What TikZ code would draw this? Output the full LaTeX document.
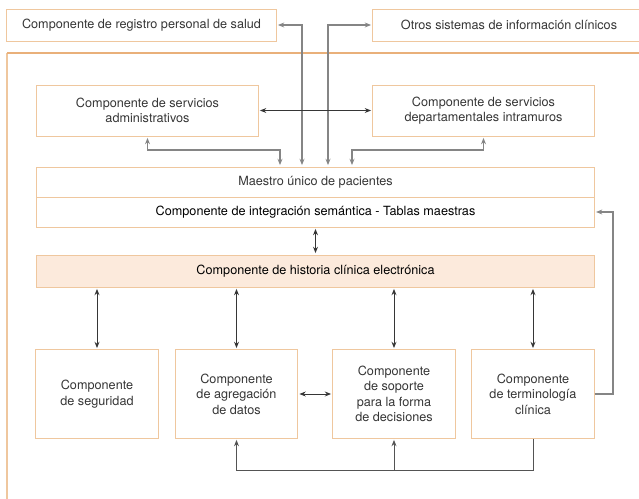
\documentclass[tikz,border=0pt]{standalone}
\usepackage{fontspec}
\setmainfont{TeX Gyre Heros}
\usetikzlibrary{arrows.meta}

\definecolor{borde}{HTML}{EFC79E}
\definecolor{naranja}{HTML}{E9B07A}
\definecolor{relleno}{HTML}{FCEADC}
\definecolor{gris}{HTML}{858585}
\definecolor{tinta}{HTML}{363636}

\tikzstyle{comp}=[draw=borde,line width=0.7pt,fill=white,text=tinta,align=center,
  font=\fontsize{9}{11}\selectfont,inner sep=2pt]
\tikzstyle{caja}=[comp,minimum width=5.525cm,minimum height=1.275cm]
\tikzstyle{fila}=[comp,minimum width=13.925cm,minimum height=0.75cm]
\tikzstyle{bloque}=[comp,minimum width=3.05cm,minimum height=2.2cm]
\tikzstyle{linea}=[draw=gris,line width=0.8pt,shorten <=1pt,shorten >=1pt]
\tikzstyle{flecha}=[draw=tinta,line width=0.7pt,<->,shorten <=1pt,shorten >=1pt]

\begin{document}
\begin{tikzpicture}[x=0.025cm,y=-0.025cm,>={Stealth[length=4.5pt,width=3.5pt]}]
\useasboundingbox (0,0) rectangle (639,499);

% marco exterior
\draw[borde,line width=1pt] (7,530) -- (7,53);
\draw[naranja,line width=1.3pt] (7,53) -- (680,53);

% sistemas externos
\node[comp,minimum width=6.725cm,minimum height=0.8cm] (reg) at (141.5,25)
  {Componente de registro personal de salud};
\node[comp,minimum width=6.8cm,minimum height=0.8cm] (otros) at (509,25)
  {Otros sistemas de información clínicos};

\node[caja] (admin) at (147.5,110.5) {Componente de servicios\\administrativos};
\node[caja] (depto) at (483.5,110.5) {Componente de servicios\\departamentales intramuros};

\node[fila] (maestro) at (315.5,182) {Maestro único de pacientes};
\node[fila,text=black] (integ) at (315.5,212)
  {Componente de integración semántica - Tablas maestras};
\node[fila,fill=relleno,text=black,minimum height=0.8cm] (historia) at (315.5,271)
  {Componente de historia clínica electrónica};

\node[bloque] (seg) at (97,394) {Componente\\de seguridad};
\node[bloque] (agreg) at (236.5,394) {Componente\\de agregación\\de datos};
\node[bloque] (soporte) at (394,394) {Componente\\de soporte\\para la forma\\de decisiones};
\node[bloque] (termin) at (533,394) {Componente\\de terminología\\clínica};

% buses hacia el maestro
\coordinate (b1) at (280,150);
\coordinate (b2) at (302,0);
\coordinate (b3) at (328,0);
\coordinate (b4) at (352,150);
\draw[linea,<->] (admin.south) |- (b1) -- (b1 |- maestro.north);
\draw[linea,<->] (reg.east) -| (b2 |- maestro.north);
\draw[linea,<->] (otros.west) -| (b3 |- maestro.north);
\draw[linea,<->] (depto.south) |- (b4) -- (b4 |- maestro.north);
\draw[flecha] (admin.east) -- (depto.west);

\draw[flecha] (integ.south) -- (historia.north);
\foreach \n in {seg,agreg,soporte,termin}
  \draw[flecha] (\n.north |- historia.south) -- (\n.north);
\draw[flecha] (agreg.east) -- (soporte.west);

% retorno de terminologia
\coordinate (d1) at (613,0);
\coordinate (u1) at (0,470);
\draw[linea,->,shorten <=0pt] (termin.east) -- (termin.east -| d1) |- (integ.east);
\draw[linea,draw=tinta!85,line width=0.65pt,->,shorten <=0pt] (termin.south) -- (termin.south |- u1) -| (agreg.south);
\draw[linea,draw=tinta!85,line width=0.65pt,->,shorten <=0pt] (soporte.south |- u1) -- (soporte.south);
\end{tikzpicture}
\end{document}
